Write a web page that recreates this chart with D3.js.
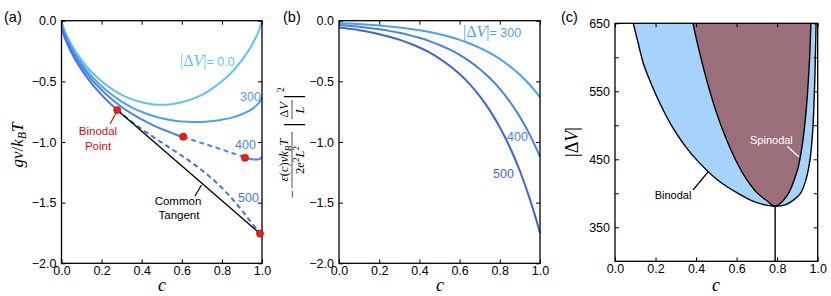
<!DOCTYPE html>
<html><head><meta charset="utf-8">
<script src="https://cdn.jsdelivr.net/npm/d3@7"></script>
<style>
body{margin:0;background:#fff}
svg{display:block}
</style>
</head><body>
<svg id="chart" width="831" height="296" font-family="'Liberation Sans',Arial,sans-serif"></svg>
<script>
// ---------- data ----------
const cGrid = [0,0.005,0.01,0.02,0.05,0.1,0.15,0.2,0.25,0.3,0.35,0.4,0.45,0.5,0.55,0.6,0.65,0.7,0.75,0.8,0.85,0.9,0.95,0.98,0.99,0.995,1.0];
// panel (a): free energy curves
const g0   = [0,-0.032,-0.056,-0.098,-0.199,-0.325,-0.423,-0.500,-0.562,-0.611,-0.647,-0.673,-0.688,-0.693,-0.688,-0.673,-0.647,-0.611,-0.562,-0.500,-0.423,-0.325,-0.199,-0.098,-0.056,-0.032,0];
const g300 = [-0.020,-0.052,-0.077,-0.119,-0.223,-0.353,-0.457,-0.540,-0.609,-0.667,-0.714,-0.752,-0.782,-0.805,-0.821,-0.831,-0.835,-0.835,-0.828,-0.816,-0.799,-0.771,-0.729,-0.686,-0.665,-0.651,-0.630];
const g400 = [-0.036,-0.068,-0.093,-0.136,-0.241,-0.375,-0.483,-0.571,-0.646,-0.711,-0.766,-0.814,-0.856,-0.893,-0.925,-0.955,-0.982,-1.009,-1.035,-1.062,-1.091,-1.118,-1.142,-1.145,-1.139,-1.134,-1.120];
const g500 = [-0.056,-0.089,-0.114,-0.157,-0.265,-0.403,-0.516,-0.611,-0.694,-0.767,-0.833,-0.894,-0.950,-1.005,-1.059,-1.113,-1.170,-1.233,-1.301,-1.378,-1.466,-1.564,-1.672,-1.732,-1.747,-1.753,-1.750];
const binodal400 = [[0.607,-0.956],[0.915,-1.130]];
const binodal500 = [[0.278,-0.736],[0.99,-1.755]];
// panel (b): electrostatic term
const b300 = [-0.020,-0.020,-0.021,-0.021,-0.024,-0.028,-0.034,-0.040,-0.047,-0.056,-0.067,-0.079,-0.094,-0.112,-0.133,-0.158,-0.188,-0.224,-0.266,-0.316,-0.376,-0.446,-0.530,-0.588,-0.609,-0.619,-0.630];
const b400 = [-0.036,-0.036,-0.037,-0.038,-0.042,-0.050,-0.060,-0.071,-0.084,-0.100,-0.119,-0.141,-0.168,-0.200,-0.237,-0.282,-0.335,-0.398,-0.473,-0.562,-0.668,-0.793,-0.943,-1.047,-1.083,-1.102,-1.120];
const b500 = [-0.056,-0.057,-0.058,-0.059,-0.066,-0.078,-0.093,-0.111,-0.132,-0.156,-0.186,-0.221,-0.262,-0.312,-0.371,-0.440,-0.523,-0.622,-0.739,-0.878,-1.043,-1.239,-1.473,-1.634,-1.691,-1.721,-1.750];
// panel (c): phase diagram (c, |dV|)
const binodalC = [0.09,0.115,0.14,0.18,0.222,0.278,0.35,0.419,0.5,0.551,0.607,0.683,0.74,0.79,0.84,0.88,0.915,0.94,0.96,0.975,0.985,0.992];
const binodalV = [650,620,591,560,532,500,468,444,421,410,400,388,383,381,383,390,400,418,445,490,560,650];
const spinodalC = [0.385,0.4,0.45,0.5,0.55,0.6,0.65,0.7,0.75,0.79,0.85,0.9,0.91,0.925,0.94,0.95,0.96,0.9666];
const spinodalV = [650,629,569,519,479,446,420,401,389,381,397,434,447,473,512,548,599,650];
const criticalC = 0.79, criticalV = 381;
const xTicks = [0,0.2,0.4,0.6,0.8,1.0];
const yTicksAB = [-2,-1.5,-1,-0.5,0];
const yTicksC = [350,400,450,500,550,600,650];

// ---------- colours ----------
const colA = {v0:"#5cc5ef", v300:"#4fa1f0", v400:"#4a87ec", v500:"#4573e4"};
const colB = {v300:"#4aa2ef", v400:"#4782e6", v500:"#3f63d8"};
const red = "#ee1c1c";
const SANS = "'Liberation Sans',Arial,sans-serif";
const SERIF = "'Liberation Serif','Times New Roman',serif";

const svg = d3.select("#chart");

// ---------- helpers ----------
function frameAxes(g, x, y, xt, yt, yfmt){
  const [x0,x1] = x.range(), [y0,y1] = y.range();
  const ax = g.append("g").attr("transform",`translate(0,${y0})`)
    .call(d3.axisBottom(x).tickValues(xt).tickFormat(d3.format(".1f")).tickSizeInner(-4).tickSizeOuter(0).tickPadding(3));
  const ay = g.append("g").attr("transform",`translate(${x0},0)`)
    .call(d3.axisLeft(y).tickValues(yt).tickFormat(yfmt).tickSizeInner(-4).tickSizeOuter(0).tickPadding(5));
  const at = g.append("g").attr("transform",`translate(0,${y1})`)
    .call(d3.axisTop(x).tickValues(xt).tickFormat("").tickSizeInner(-4).tickSizeOuter(0));
  const ar = g.append("g").attr("transform",`translate(${x1},0)`)
    .call(d3.axisRight(y).tickValues(yt).tickFormat("").tickSizeInner(-4).tickSizeOuter(0));
  [ax,ay,at,ar].forEach(a=>{
    a.attr("font-family",SANS).attr("font-size",12.5);
    a.select(".domain").remove();
    a.selectAll("line").attr("stroke","#000").attr("stroke-width",1);
    a.selectAll("text").attr("fill","#000");
  });
  g.append("rect").attr("x",x0).attr("y",y1).attr("width",x1-x0).attr("height",y0-y1)
    .attr("fill","none").attr("stroke","#000").attr("stroke-width",1.3);
}
function pts(c, v){ return c.map((d,i)=>[d,v[i]]); }
function seg(c, v, lo, hi, pStart, pEnd){
  const out = [];
  if(pStart) out.push(pStart);
  c.forEach((d,i)=>{ if(d>lo && d<hi) out.push([d,v[i]]); });
  if(pEnd) out.push(pEnd);
  return out;
}
function xLabel(x){
  svg.append("text").attr("x",x).attr("y",291).attr("text-anchor","middle")
    .attr("font-family",SERIF).attr("font-style","italic").attr("font-size",18).text("c");
}

// ================= panel (a) =================
const xa = d3.scaleLinear([0,1],[61.5,262]);
const ya = d3.scaleLinear([-2,0],[263.3,20.7]);
const gA = svg.append("g");
svg.append("clipPath").attr("id","clipA").append("rect")
  .attr("x",61.5).attr("y",20.7).attr("width",200.5).attr("height",242.6);
const lineA = d3.line().x(d=>xa(d[0])).y(d=>ya(d[1])).curve(d3.curveMonotoneX);
const cA = gA.append("g").attr("clip-path","url(#clipA)");
function drawA(data,color,dashed){
  cA.append("path").attr("d",lineA(data)).attr("fill","none").attr("stroke",color)
    .attr("stroke-width",2).attr("stroke-dasharray",dashed?"5,3.5":null);
}
drawA(pts(cGrid,g0),colA.v0,false);
drawA(pts(cGrid,g300),colA.v300,false);
drawA(seg(cGrid,g400,-1,binodal400[0][0],null,binodal400[0]),colA.v400,false);
drawA(seg(cGrid,g400,binodal400[0][0],binodal400[1][0],binodal400[0],binodal400[1]),colA.v400,true);
drawA(seg(cGrid,g400,binodal400[1][0],2,binodal400[1],null),colA.v400,false);
drawA(seg(cGrid,g500,-1,binodal500[0][0],null,binodal500[0]),colA.v500,false);
drawA(seg(cGrid,g500,binodal500[0][0],binodal500[1][0],binodal500[0],binodal500[1]),colA.v500,true);
// common tangent
gA.append("path").attr("d",d3.line().x(d=>xa(d[0])).y(d=>ya(d[1]))(binodal500))
  .attr("stroke","#000").attr("stroke-width",1.4).attr("fill","none");
frameAxes(gA,xa,ya,xTicks,yTicksAB,d3.format(".1f"));
// dots
gA.selectAll("circle.dot").data([...binodal500.slice(0,1),...binodal400,binodal500[1]]).join("circle")
  .attr("cx",d=>xa(d[0])).attr("cy",d=>ya(d[1])).attr("r",3.6)
  .attr("fill",red).attr("stroke","#b00000").attr("stroke-width",0.6);

// labels (a)
svg.append("text").attr("x",4).attr("y",22).attr("font-size",14.5).text("(a)");
const ylA = svg.append("text").attr("transform","translate(23,145) rotate(-90)")
  .attr("text-anchor","middle").attr("font-family",SERIF).attr("font-style","italic").attr("font-size",17);
ylA.append("tspan").text("gv");
ylA.append("tspan").attr("font-style","normal").text("/");
ylA.append("tspan").text("k");
ylA.append("tspan").attr("dy",3).attr("font-size",12).text("B");
ylA.append("tspan").attr("dy",-3).text("T");
xLabel(162);

function dvLabel(x,y,val,color){
  const t = svg.append("text").attr("x",x).attr("y",y).attr("fill",color);
  t.append("tspan").attr("font-family",SERIF).attr("font-size",16).text("|Δ");
  t.append("tspan").attr("font-family",SERIF).attr("font-style","italic").attr("font-size",16).text("V");
  t.append("tspan").attr("font-family",SERIF).attr("font-size",16).text("|");
  t.append("tspan").attr("font-family",SANS).attr("font-size",12.5).text("= "+val);
}
dvLabel(180,66,"0.0",colA.v0);
svg.append("text").attr("x",240).attr("y",101).attr("font-size",12.5).attr("fill",colA.v300).text("300");
svg.append("text").attr("x",235).attr("y",149).attr("font-size",12.5).attr("fill",colA.v400).text("400");
svg.append("text").attr("x",238).attr("y",202).attr("font-size",12.5).attr("fill",colA.v500).text("500");

svg.append("text").attr("x",98).attr("y",135).attr("text-anchor","middle").attr("font-size",11.5).attr("fill","#cc1111").text("Binodal");
svg.append("text").attr("x",98).attr("y",150).attr("text-anchor","middle").attr("font-size",11.5).attr("fill","#cc1111").text("Point");
svg.append("line").attr("x1",110).attr("y1",124).attr("x2",116).attr("y2",113).attr("stroke","#cc1111").attr("stroke-width",1.2);
svg.append("text").attr("x",178).attr("y",205).attr("text-anchor","middle").attr("font-size",11.5).text("Common");
svg.append("text").attr("x",179).attr("y",219).attr("text-anchor","middle").attr("font-size",11.5).text("Tangent");
svg.append("line").attr("x1",195).attr("y1",196).attr("x2",201.5).attr("y2",185).attr("stroke","#000").attr("stroke-width",1.2);

// ================= panel (b) =================
const xb = d3.scaleLinear([0,1],[339,540]);
const yb = d3.scaleLinear([-2,0],[263.3,20.7]);
const gB = svg.append("g");
const lineB = d3.line().x(d=>xb(d[0])).y(d=>yb(d[1])).curve(d3.curveMonotoneX);
[[b300,colB.v300],[b400,colB.v400],[b500,colB.v500]].forEach(([v,col])=>{
  gB.append("path").attr("d",lineB(pts(cGrid,v))).attr("fill","none").attr("stroke",col).attr("stroke-width",2);
});
frameAxes(gB,xb,yb,xTicks,yTicksAB,d3.format(".1f"));
svg.append("text").attr("x",283).attr("y",22).attr("font-size",14.5).text("(b)");
xLabel(440);
dvLabel(463,37,"300",colB.v300);
svg.append("text").attr("x",507).attr("y",141).attr("font-size",12.5).attr("fill",colB.v400).text("400");
svg.append("text").attr("x",493).attr("y",178).attr("font-size",12.5).attr("fill",colB.v500).text("500");
// y label of (b)
const yl = svg.append("g").attr("transform","translate(292,124) rotate(-90)")
  .attr("font-family",SERIF);
yl.append("text").attr("x",-74).attr("y",4.5).attr("font-size",14).text("−");
const num = yl.append("text").attr("x",-36).attr("y",-4).attr("text-anchor","middle").attr("font-size",12.5).attr("font-style","italic");
num.append("tspan").text("ε");
num.append("tspan").attr("font-style","normal").text("(");
num.append("tspan").text("c");
num.append("tspan").attr("font-style","normal").text(")");
num.append("tspan").text("vk");
num.append("tspan").attr("dy",2.5).attr("font-size",9).text("B");
num.append("tspan").attr("dy",-2.5).text("T");
yl.append("line").attr("x1",-64).attr("x2",-8).attr("y1",0).attr("y2",0).attr("stroke","#000").attr("stroke-width",0.7);
const den = yl.append("text").attr("x",-36).attr("y",11.5).attr("text-anchor","middle").attr("font-size",12.5).attr("font-style","italic");
den.append("tspan").attr("font-style","normal").text("2");
den.append("tspan").text("e");
den.append("tspan").attr("dy",-4.5).attr("font-size",9).attr("font-style","normal").text("2");
den.append("tspan").attr("dy",4.5).text("L");
den.append("tspan").attr("dy",-4.5).attr("font-size",9).attr("font-style","normal").text("2");
yl.append("text").attr("x",-3).attr("y",7.5).attr("font-size",24).text("|");
const n2 = yl.append("text").attr("x",14).attr("y",-4).attr("text-anchor","middle").attr("font-size",12.5);
n2.append("tspan").text("Δ"); n2.append("tspan").attr("font-style","italic").text("V");
yl.append("line").attr("x1",5).attr("x2",24).attr("y1",0).attr("y2",0).attr("stroke","#000").attr("stroke-width",0.7);
yl.append("text").attr("x",14).attr("y",11.5).attr("text-anchor","middle").attr("font-size",12.5).attr("font-style","italic").text("L");
yl.append("text").attr("x",25).attr("y",7.5).attr("font-size",24).text("|");
yl.append("text").attr("x",32).attr("y",-8).attr("font-size",9.5).text("2");

// ================= panel (c) =================
const xc = d3.scaleLinear([0,1],[615,817.7]);
const yc = d3.scaleLinear([300,650],[261.3,23.3]);
const gC = svg.append("g");
svg.append("clipPath").attr("id","clipC").append("rect")
  .attr("x",615).attr("y",23.3).attr("width",202.7).attr("height",238);
const cC = gC.append("g").attr("clip-path","url(#clipC)");
const lineC = d3.line().x(d=>xc(d[0])).y(d=>yc(d[1])).curve(d3.curveCatmullRom.alpha(0.5));
const binPts = pts(binodalC,binodalV), spiPts = pts(spinodalC,spinodalV);
cC.append("path").attr("d",lineC(binPts)+"Z").attr("fill","#a6d3f9").attr("stroke","none");
cC.append("path").attr("d",lineC(spiPts)+"Z").attr("fill","#9b6f7a").attr("stroke","none");
cC.append("path").attr("d",lineC(binPts)).attr("fill","none").attr("stroke","#000").attr("stroke-width",1.4);
cC.append("path").attr("d",lineC(spiPts)).attr("fill","none").attr("stroke","#000").attr("stroke-width",1.4);
cC.append("line").attr("x1",xc(criticalC)).attr("x2",xc(criticalC)).attr("y1",yc(criticalV)).attr("y2",yc(300))
  .attr("stroke","#000").attr("stroke-width",1.4);
frameAxes(gC,xc,yc,xTicks,yTicksC,d=>(d%100===50?d:""));
svg.append("text").attr("x",561).attr("y",22).attr("font-size",14.5).text("(c)");
xLabel(716);
const ylC = svg.append("text").attr("transform","translate(578,142) rotate(-90)").attr("text-anchor","middle")
  .attr("font-family",SERIF).attr("font-size",18);
ylC.append("tspan").text("|Δ"); ylC.append("tspan").attr("font-style","italic").text("V"); ylC.append("tspan").text("|");
svg.append("text").attr("x",673).attr("y",199).attr("text-anchor","middle").attr("font-size",11).text("Binodal");
svg.append("line").attr("x1",693).attr("y1",190).attr("x2",708).attr("y2",172).attr("stroke","#000").attr("stroke-width",1.2);
svg.append("text").attr("x",750).attr("y",144).attr("font-size",11).attr("fill","#fff").text("Spinodal");
svg.append("line").attr("x1",787).attr("y1",146).attr("x2",799).attr("y2",157).attr("stroke","#fff").attr("stroke-width",1.2);
</script>
</body></html>
